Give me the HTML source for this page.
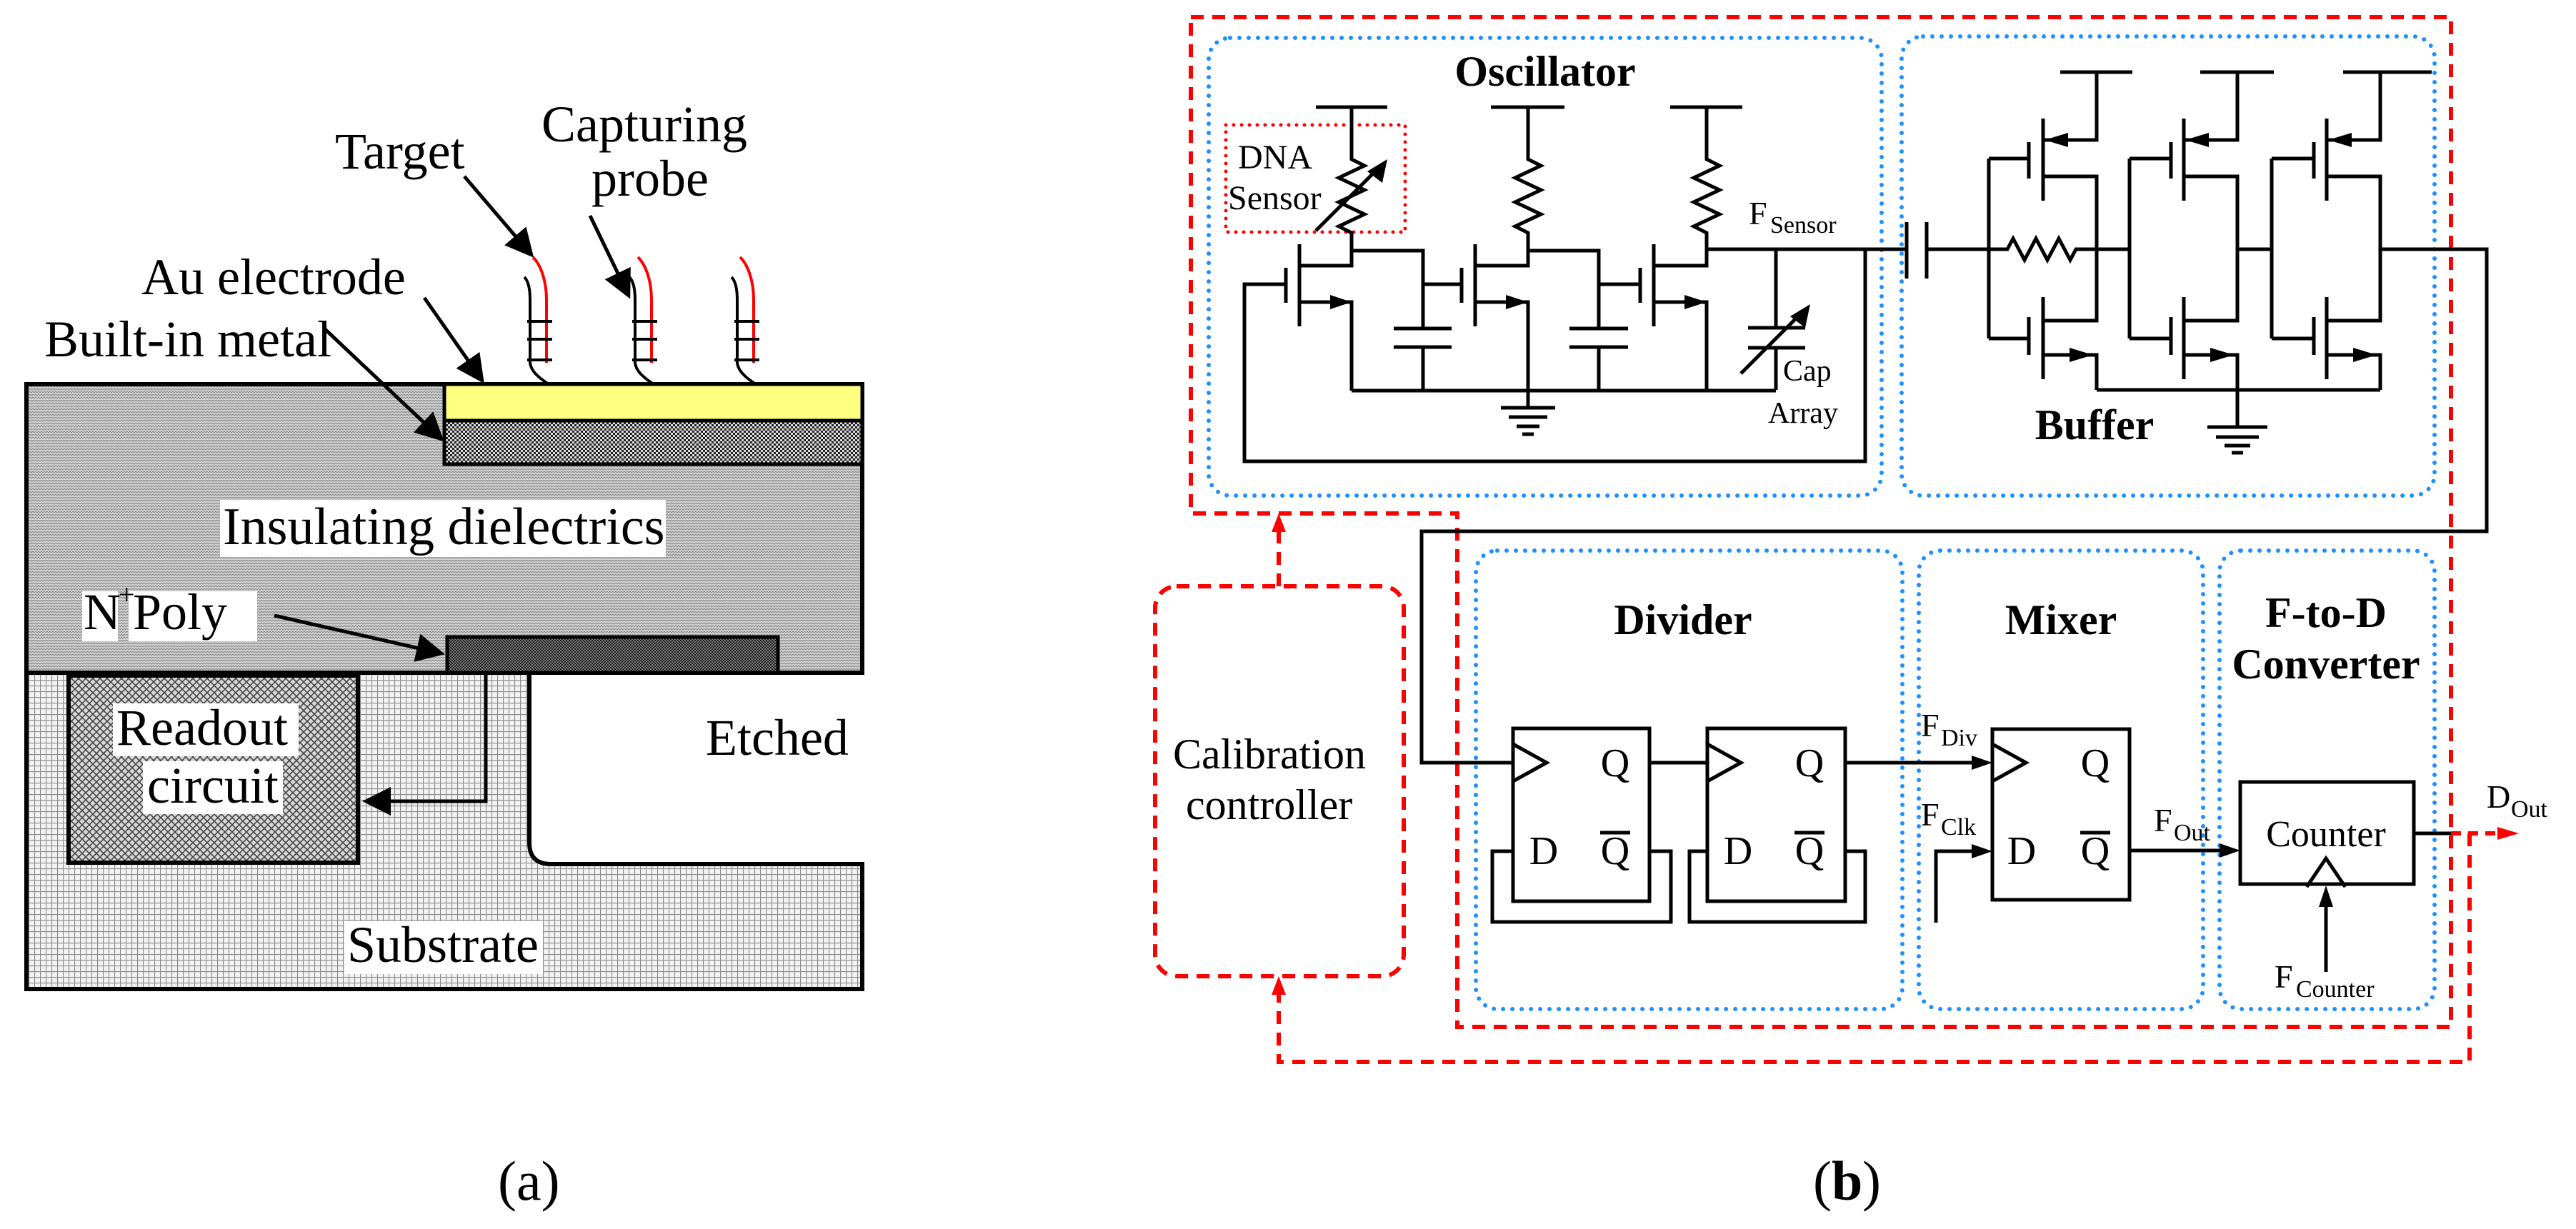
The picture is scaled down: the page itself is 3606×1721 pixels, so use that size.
<!DOCTYPE html>
<html><head><meta charset="utf-8"><style>
html,body{margin:0;padding:0;background:#fff;width:3606px;height:1721px;overflow:hidden}
svg{display:block}
text{font-family:"Liberation Serif","Times New Roman",serif;fill:#000}
.b{font-weight:bold}
</style></head><body>
<svg width="3606" height="1721" viewBox="0 0 3606 1721" xmlns="http://www.w3.org/2000/svg">
<defs>
<pattern id="diel" width="8" height="8" patternUnits="userSpaceOnUse">
<rect width="8" height="8" fill="#d2d2d2"/>
<path d="M0 2 L2 0 L4 2 L6 0 L8 2 M0 6 L2 4 L4 6 L6 4 L8 6" stroke="#888" stroke-width="1.1" fill="none"/>
</pattern>
<pattern id="metal" width="6" height="6" patternUnits="userSpaceOnUse">
<rect width="6" height="6" fill="#ddd"/>
<rect width="3" height="3" fill="#222"/><rect x="3" y="3" width="3" height="3" fill="#222"/>
</pattern>
<pattern id="poly" width="4" height="4" patternUnits="userSpaceOnUse">
<rect width="4" height="4" fill="#777"/>
<rect width="2" height="2" fill="#222"/><rect x="2" y="2" width="2" height="2" fill="#222"/>
</pattern>
<pattern id="ro" width="10" height="10" patternUnits="userSpaceOnUse">
<rect width="10" height="10" fill="#d8d8d8"/>
<path d="M0 0 L10 10 M10 0 L0 10" stroke="#444" stroke-width="1.6"/>
</pattern>
<pattern id="sub" width="8" height="8" patternUnits="userSpaceOnUse">
<rect width="8" height="8" fill="#f2f2f2"/>
<path d="M0 0.5 H8 M0.5 0 V8" stroke="#8a8a8a" stroke-width="1.2"/>
</pattern>
<marker id="ah" markerWidth="8" markerHeight="8" refX="7" refY="4" orient="auto" markerUnits="strokeWidth">
<path d="M0 0 L8 4 L0 8 z" fill="#000"/></marker>
</defs>

<!-- ================= PANEL A ================= -->
<path d="M37 942 H741 V1180 Q741 1210 771 1210 H1207 V1385 H37 Z" fill="url(#sub)" stroke="#000" stroke-width="6"/>
<rect x="37" y="538" width="1170" height="404" fill="url(#diel)" stroke="#000" stroke-width="6"/>
<rect x="622" y="538" width="585" height="51" fill="#ffff80" stroke="#000" stroke-width="5"/>
<rect x="622" y="589" width="585" height="61" fill="url(#metal)" stroke="#000" stroke-width="5"/>
<rect x="626" y="892" width="463" height="50" fill="url(#poly)" stroke="#000" stroke-width="5"/>
<rect x="96" y="946" width="405" height="262" fill="url(#ro)" stroke="#000" stroke-width="6"/>
<path d="M680 944 V1122 H512" fill="none" stroke="#000" stroke-width="5" marker-end="url(#ah)"/>

<rect x="308" y="700" width="624" height="80" fill="#fff"/>
<text x="312" y="762" font-size="74">Insulating dielectrics</text>
<rect x="115" y="828" width="50" height="70" fill="#fff"/><rect x="180" y="828" width="180" height="70" fill="#fff"/>
<text x="117" y="881" font-size="72">N</text><text x="166" y="846" font-size="40">+</text>
<text x="186" y="881" font-size="72">Poly</text>
<rect x="158" y="985" width="260" height="74" fill="#fff"/>
<rect x="200" y="1066" width="196" height="74" fill="#fff"/>
<text x="163" y="1043" font-size="72">Readout</text>
<text x="206" y="1124" font-size="72">circuit</text>
<text x="988" y="1057" font-size="72">Etched</text>
<rect x="482" y="1290" width="278" height="74" fill="#fff"/>
<text x="486" y="1347" font-size="72">Substrate</text>

<text x="469" y="236" font-size="72">Target</text>
<text x="758" y="198" font-size="72">Capturing</text>
<text x="828" y="274" font-size="72">probe</text>
<text x="198" y="412" font-size="72">Au electrode</text>
<text x="62" y="499" font-size="72">Built-in metal</text>

<g stroke="#000" stroke-width="5" fill="none" marker-end="url(#ah)">
<path d="M650 247 L744 357"/>
<path d="M826 302 L880 414"/>
<path d="M594 417 L675 533"/>
<path d="M455 461 L618 615"/>
<path d="M384 862 L618 915"/>
</g>
<g fill="none" stroke-width="4">
<g transform="translate(768,0)">
<path d="M0 538 C-20 525 -28 515 -26 500 L-26 420 C-26 400 -30 392 -34 388" stroke="#000"/>
<path d="M-3 508 L-3 420 C-3 395 -10 372 -22 360" stroke="#f00"/>
<path d="M-30 450 H5 M-30 475 H5 M-30 504 H5" stroke="#000"/>
</g>
<g transform="translate(915,0)">
<path d="M0 538 C-20 525 -28 515 -26 500 L-26 420 C-26 400 -30 392 -34 388" stroke="#000"/>
<path d="M-3 508 L-3 420 C-3 395 -10 372 -22 360" stroke="#f00"/>
<path d="M-30 450 H5 M-30 475 H5 M-30 504 H5" stroke="#000"/>
</g>
<g transform="translate(1058,0)">
<path d="M0 538 C-20 525 -28 515 -26 500 L-26 420 C-26 400 -30 392 -34 388" stroke="#000"/>
<path d="M-3 508 L-3 420 C-3 395 -10 372 -22 360" stroke="#f00"/>
<path d="M-30 450 H5 M-30 475 H5 M-30 504 H5" stroke="#000"/>
</g>
</g>
<text x="697" y="1680" font-size="78">(a)</text>

<!-- ================= PANEL B ================= -->
<path d="M1667 24 H3431 V1438 H2040 V719 H1667 Z" fill="none" stroke="#f00" stroke-width="6" stroke-dasharray="18 12"/>
<g fill="none" stroke="#1e8fff" stroke-width="6" stroke-dasharray="0 13" stroke-linecap="round">
<rect x="1692" y="53" width="942" height="641" rx="30"/>
<rect x="2662" y="51" width="746" height="643" rx="30"/>
<rect x="2066" y="771" width="597" height="642" rx="30"/>
<rect x="2686" y="771" width="398" height="642" rx="30"/>
<rect x="3107" y="771" width="301" height="642" rx="30"/>
</g>
<rect x="1617" y="821" width="348" height="546" rx="30" fill="none" stroke="#f00" stroke-width="6" stroke-dasharray="18 12"/>
<path d="M1790 821 V730" fill="none" stroke="#f00" stroke-width="6" stroke-dasharray="18 12"/>
<path d="M1780 745 L1790 719 L1800 745 Z" fill="#f00"/>
<path d="M3457 1167 V1487 H1790 V1390" fill="none" stroke="#f00" stroke-width="6" stroke-dasharray="18 12"/>
<path d="M1780 1393 L1790 1367 L1800 1393 Z" fill="#f00"/>
<path d="M3431 1167 H3500" fill="none" stroke="#f00" stroke-width="6" stroke-dasharray="14 10"/>
<path d="M3496 1158 L3526 1167 L3496 1176 Z" fill="#f00"/>
<text x="1642" y="1076" font-size="60">Calibration</text>
<text x="1660" y="1147" font-size="60">controller</text>

<text class="b" x="2163" y="120" font-size="60" text-anchor="middle">Oscillator</text>
<text class="b" x="2932" y="615" font-size="60" text-anchor="middle">Buffer</text>
<text class="b" x="2356" y="888" font-size="60" text-anchor="middle">Divider</text>
<text class="b" x="2885" y="888" font-size="60" text-anchor="middle">Mixer</text>
<text class="b" x="3256" y="878" font-size="60" text-anchor="middle">F-to-D</text>
<text class="b" x="3256" y="950" font-size="60" text-anchor="middle">Converter</text>

<rect x="1716" y="175" width="251" height="150" fill="none" stroke="#f00" stroke-width="5" stroke-dasharray="0 11" stroke-linecap="round"/>
<text x="1733" y="236" font-size="48">DNA</text>
<text x="1719" y="293" font-size="48">Sensor</text>

<g fill="none" stroke="#000" stroke-width="5">
<path d="M1842 150 H1942 M2087 150 H2190 M2338 150 H2439"/>
<path d="M1892 150 V223 L1910 232 L1874 249 L1910 266 L1874 283 L1910 300 L1874 317 L1892 326 V372 H1819"/>
<path d="M2139 150 V223 L2157 232 L2121 249 L2157 266 L2121 283 L2157 300 L2121 317 L2139 326 V372 H2065"/>
<path d="M2389 150 V223 L2407 232 L2371 249 L2407 266 L2371 283 L2407 300 L2371 317 L2389 326 V372 H2315"/>
<path d="M1819 342 V457 M2065 342 V457 M2315 342 V457"/>
<path d="M1800 375 V424 M2046 375 V424 M2296 375 V424"/>
<path d="M1819 423 H1892 V547 M2065 423 H2139 V547 M2315 423 H2389 V547"/>
<path d="M1892 351 H1992 V460 M1992 486 V547 M1951 460 H2032 M1951 486 H2032"/>
<path d="M2139 351 H2238 V460 M2238 486 V547 M2197 460 H2279 M2197 486 H2279"/>
<path d="M2389 349 H2669 M2486 349 V459 M2486 487 V546 M2447 459 H2527 M2447 487 H2527"/>
<path d="M1992 398 H2046 M2238 398 H2296"/>
<path d="M1892 547 H2486"/>
<path d="M1800 398 H1742 V646 H2611 V349"/>
<path d="M2139 547 V571 M2101 571 H2177 M2112 584 H2166 M2123 597 H2155 M2131 608 H2147"/>
</g>
<g fill="#000">
<path d="M1862 413 L1892 423 L1862 433 Z"/>
<path d="M2108 413 L2139 423 L2108 433 Z"/>
<path d="M2358 413 L2389 423 L2358 433 Z"/>
</g>
<path d="M1842 323 L1930 235" stroke="#000" stroke-width="5" fill="none"/>
<path d="M1942 223 L1935 256 L1914 240 Z" fill="#000"/>
<path d="M2437 523 L2522 438" stroke="#000" stroke-width="5" fill="none"/>
<path d="M2534 426 L2527 459 L2506 443 Z" fill="#000"/>
<text x="2448" y="314" font-size="46">F</text><text x="2478" y="326" font-size="34">Sensor</text>
<text x="2496" y="533" font-size="42">Cap</text>
<text x="2475" y="592" font-size="42">Array</text>

<g fill="none" stroke="#000" stroke-width="5">
<path d="M2669 311 V390 M2697 311 V390"/>
<path d="M2697 349 H2810 L2818 334 L2834 364 L2850 334 L2866 364 L2882 334 L2898 364 L2906 349 H2981"/>
<path d="M3132 349 H3180 M3332 349 H3481 V744 H1990 V1068 H2118"/>
<path d="M2884 101 H2985 M3080 101 H3183 M3280 101 H3404"/>
<path d="M2935 546 H3332"/>
<path d="M3132 546 V598 M3090 598 H3174 M3102 612 H3162 M3114 624 H3150 M3124 634 H3140"/>
<path d="M2784 222 V474 M2784 222 H2840 M2784 474 H2840"/>
<path d="M2840 199 V250 M2860 166 V281 M2840 444 V497 M2860 416 V531"/>
<path d="M2860 196 H2935 V101 M2860 247 H2935 V449 H2860 M2860 497 H2935 V546"/>
<path d="M2981 222 V474 M2981 222 H3039 M2981 474 H3039"/>
<path d="M3039 199 V250 M3057 166 V281 M3039 444 V497 M3057 416 V531"/>
<path d="M3057 196 H3132 V101 M3057 247 H3132 V449 H3057 M3057 497 H3132 V546"/>
<path d="M3180 222 V474 M3180 222 H3239 M3180 474 H3239"/>
<path d="M3239 199 V250 M3257 166 V281 M3239 444 V497 M3257 416 V531"/>
<path d="M3257 196 H3332 V101 M3257 247 H3332 V449 H3257 M3257 497 H3332 V546"/>
</g>
<g fill="#000">
<path d="M2862 196 L2895 186 L2895 206 Z"/><path d="M3059 196 L3092 186 L3092 206 Z"/><path d="M3259 196 L3292 186 L3292 206 Z"/>
<path d="M2930 497 L2897 487 L2897 507 Z"/><path d="M3127 497 L3094 487 L3094 507 Z"/><path d="M3327 497 L3294 487 L3294 507 Z"/>
</g>

<g fill="none" stroke="#000" stroke-width="5">
<rect x="2118" y="1020" width="191" height="242"/>
<path d="M2118 1042 L2165 1068 L2118 1094"/>
<path d="M2309 1192 H2339 V1291 H2089 V1192 H2118"/>
<path d="M2309 1068 H2390"/>
<rect x="2390" y="1020" width="193" height="242"/>
<path d="M2390 1042 L2437 1068 L2390 1094"/>
<path d="M2583 1192 H2611 V1291 H2365 V1192 H2390"/>
<path d="M2583 1068 H2770"/>
<rect x="2789" y="1021" width="192" height="239"/>
<path d="M2789 1042 L2836 1068 L2789 1094"/>
<path d="M2710 1292 V1192 H2770"/>
<path d="M2981 1191 H3115"/>
<rect x="3136" y="1095" width="243" height="143"/>
<path d="M3229 1242 L3256 1202 L3283 1242"/>
<path d="M3256 1361 V1260"/>
<path d="M3379 1167 H3431"/>
<path d="M2240 1166 H2282 M2512 1166 H2554 M2912 1166 H2954"/>
</g>
<g fill="#000">
<path d="M2789 1068 L2760 1058 L2760 1078 Z"/>
<path d="M2789 1192 L2760 1182 L2760 1202 Z"/>
<path d="M3136 1191 L3107 1181 L3107 1201 Z"/>
<path d="M3256 1240 L3246 1270 L3266 1270 Z"/>
</g>
<g font-size="56" text-anchor="middle">
<text x="2261" y="1087">Q</text><text x="2161" y="1210">D</text><text x="2261" y="1210">Q</text>
<text x="2533" y="1087">Q</text><text x="2433" y="1210">D</text><text x="2533" y="1210">Q</text>
<text x="2933" y="1087">Q</text><text x="2830" y="1210">D</text><text x="2933" y="1210">Q</text>
</g>
<text x="2689" y="1031" font-size="46">F</text><text x="2717" y="1044" font-size="34">Div</text>
<text x="2689" y="1156" font-size="46">F</text><text x="2717" y="1169" font-size="34">Clk</text>
<text x="3015" y="1164" font-size="46">F</text><text x="3043" y="1177" font-size="34">Out</text>
<text x="3256" y="1185" font-size="52" text-anchor="middle">Counter</text>
<text x="3184" y="1383" font-size="46">F</text><text x="3214" y="1396" font-size="34">Counter</text>
<text x="3481" y="1131" font-size="46">D</text><text x="3515" y="1144" font-size="34">Out</text>

<text x="2538" y="1680" font-size="78">(</text>
<text class="b" x="2564" y="1680" font-size="78">b</text>
<text x="2607" y="1680" font-size="78">)</text>
</svg>
</body></html>
